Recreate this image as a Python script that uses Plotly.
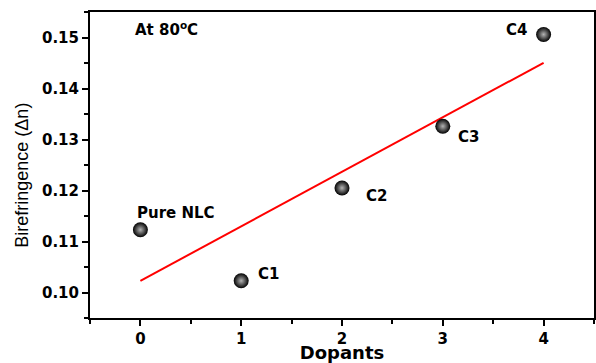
import numpy as np
import plotly.graph_objects as go

# Data
dopants = [0, 1, 2, 3, 4]
labels = ["Pure NLC", "C1", "C2", "C3", "C4"]
birefringence = [0.1123, 0.1023, 0.1205, 0.1326, 0.1506]
x_ticks = [0, 1, 2, 3, 4]
y_ticks = [0.10, 0.11, 0.12, 0.13, 0.14, 0.15]

# Linear fit
slope, intercept = np.polyfit(dopants, birefringence, 1)
fit_x = [min(dopants), max(dopants)]
fit_y = [slope * x + intercept for x in fit_x]

BOLD = "DejaVu Sans, sans-serif"
REG = "Liberation Sans, Arial, sans-serif"

fig = go.Figure()
fig.add_trace(go.Scatter(
    x=fit_x, y=fit_y, mode="lines",
    line=dict(color="#ff0000", width=2), showlegend=False, hoverinfo="skip"))
fig.add_trace(go.Scatter(
    x=dopants, y=birefringence, mode="markers",
    marker=dict(size=15, color="#000000",
                gradient=dict(type="radial", color="#b4b4b4"),
                line=dict(width=0)),
    showlegend=False))

# label placement (pixel shifts)
offsets = {
    "Pure NLC": (-5, 17, "left"),
    "C1": (15, 7, "left"),
    "C2": (22, -8, "left"),
    "C3": (13, -11, "left"),
    "C4": (-15, 4, "right"),
}
for x, y, lab in zip(dopants, birefringence, labels):
    dx, dy, anchor = offsets[lab]
    fig.add_annotation(x=x, y=y, text=lab, showarrow=False,
                       xanchor=anchor, yanchor="middle",
                       xshift=dx, yshift=dy,
                       font=dict(family=BOLD, size=15, color="black", weight="bold"))

fig.add_annotation(x=0.085, y=0.945, xref="paper", yref="paper",
                   text="At 80<sup>o</sup>C", showarrow=False,
                   xanchor="left", yanchor="middle",
                   font=dict(family=BOLD, size=15, color="black", weight="bold"))

# y-axis title as rotated annotation
fig.add_annotation(x=0, y=0.465, xref="paper", yref="paper",
                   text="Birefringence (Δn)", showarrow=False, textangle=-90,
                   xanchor="center", yanchor="middle", xshift=-68,
                   font=dict(family=REG, size=18, color="black"))

axis_common = dict(
    showline=True, linecolor="black", linewidth=2, mirror=True,
    ticks="outside", ticklen=6, tickwidth=2, tickcolor="black",
    showgrid=False, zeroline=False,
    tickfont=dict(family=BOLD, size=15, color="black", weight="bold"),
)

fig.update_xaxes(
    range=[-0.5, 4.5], tickmode="array", tickvals=x_ticks,
    minor=dict(ticks="outside", ticklen=4, tickwidth=2, tickcolor="black", dtick=0.5, tick0=0),
    title=dict(text="Dopants", standoff=1,
               font=dict(family=BOLD, size=18, color="black", weight="bold")),
    **axis_common)
fig.update_yaxes(
    range=[0.095, 0.155], tickmode="array",
    tickvals=y_ticks, tickformat=".2f",
    minor=dict(ticks="outside", ticklen=4, tickwidth=2, tickcolor="black", dtick=0.005, tick0=0.095),
    **axis_common)

fig.update_layout(
    width=596, height=363,
    margin=dict(l=90, r=2, t=12, b=45, autoexpand=False),
    plot_bgcolor="white", paper_bgcolor="white",
    font=dict(family=BOLD, color="black"),
)

fig.write_html("out.html", config={"displayModeBar": False},
               post_script="document.body.style.margin='0';document.body.style.overflow='hidden';")
